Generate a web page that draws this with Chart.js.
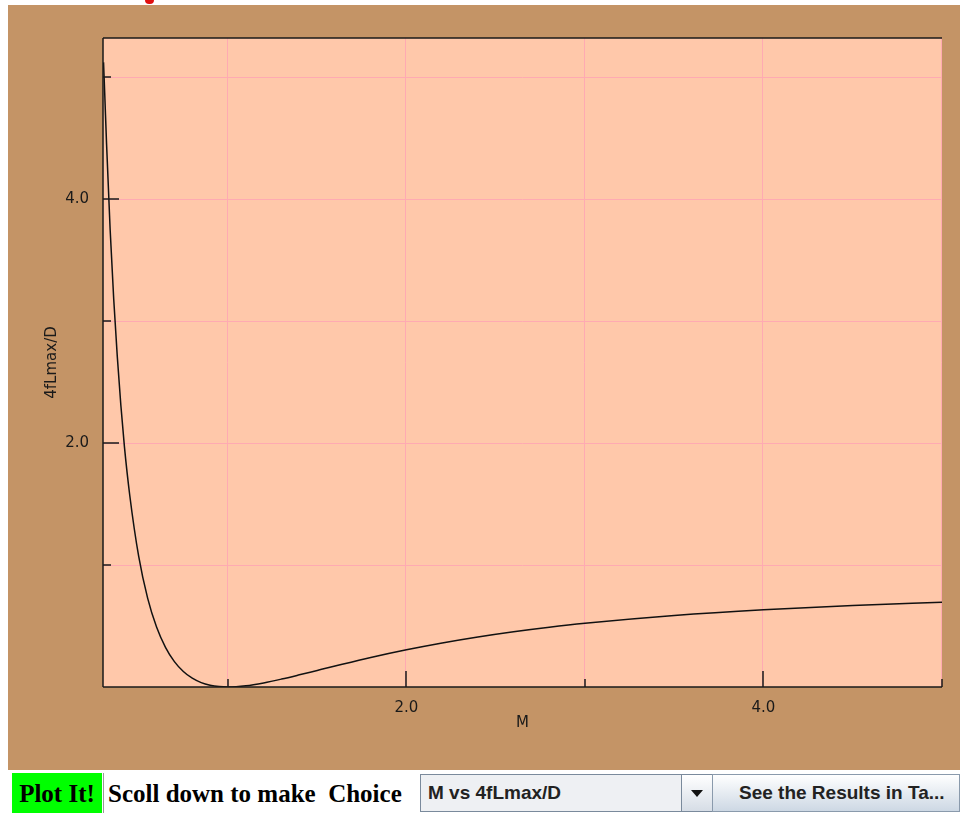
<!DOCTYPE html>
<html>
<head>
<meta charset="utf-8">
<script src="https://cdn.jsdelivr.net/npm/chart.js@4.4.0/dist/chart.umd.min.js"></script>
<style>
  body { margin:0; width:960px; height:813px; background:#fff; position:relative; overflow:hidden; font-family:"DejaVu Sans", sans-serif; }
  #mark { position:absolute; left:145px; top:0; width:9px; height:4px; background:#e01010; border-radius:0 0 5px 5px; }
  #panel { position:absolute; left:8px; top:5px; width:952px; height:765px; background:#c49466; }
  #wrap { position:absolute; left:0; top:0; width:960px; height:770px; }
  #plot { position:absolute; left:12px; top:773px; width:90px; height:40px; background:#00ff00; font:bold 25px "Liberation Serif", serif; line-height:42px; text-align:center; color:#000; }
  #sep { position:absolute; left:103px; top:773px; width:1px; height:40px; background:#999; }
  #hint { position:absolute; left:108px; top:773px; height:40px; font:bold 25px "Liberation Serif", serif; line-height:42px; color:#000; white-space:pre; }
  #combo { position:absolute; left:420px; top:774px; width:292px; height:38px; border:1px solid #7a8a9c; background:#eef0f3; box-sizing:border-box; }
  #combo .txt { position:absolute; left:7px; top:0; font:bold 19px "Liberation Sans", Arial, sans-serif; line-height:36px; color:#222; }
  #combo .arr { position:absolute; left:260px; top:0; width:30px; height:36px; border-left:1px solid #7a8a9c; background:linear-gradient(#ffffff, #d6dde6); }
  #combo .arr:after { content:""; position:absolute; left:9px; top:15px; border-left:6px solid transparent; border-right:6px solid transparent; border-top:7px solid #111; }
  #btn { position:absolute; left:712px; top:774px; width:248px; height:38px; border:1px solid #8a9aac; box-sizing:border-box; background:linear-gradient(#ffffff, #cdd8e4); font:bold 19px "Liberation Sans", Arial, sans-serif; line-height:36px; color:#222; padding-left:26px; white-space:nowrap; }
</style>
</head>
<body>
<div id="mark"></div>
<div id="panel"></div>
<div id="wrap"><canvas id="fanno"></canvas></div>
<div id="plot">Plot It!</div>
<div id="sep"></div>
<div id="hint">Scoll down to make  Choice</div>
<div id="combo"><span class="txt">M vs 4fLmax/D</span><div class="arr"></div></div>
<div id="btn">See the Results in Ta...</div>
<script>
// values
const mach = [0.303, 0.31, 0.32, 0.34, 0.36, 0.38, 0.40, 0.42, 0.45, 0.50, 0.55, 0.60, 0.65, 0.70, 0.75, 0.80, 0.85, 0.90, 0.95, 1.00,
              1.10, 1.20, 1.30, 1.40, 1.50, 1.60, 1.80, 2.00, 2.20, 2.40, 2.60, 2.80, 3.00, 3.50, 4.00, 4.50, 5.00];
const fLmax = [5.12, 4.85, 4.45, 3.75, 3.18, 2.71, 2.31, 1.97, 1.57, 1.07, 0.728, 0.491, 0.325, 0.208, 0.127, 0.072, 0.036, 0.0145, 0.0033, 0.0,
               0.0099, 0.0336, 0.0648, 0.0997, 0.136, 0.172, 0.242, 0.305, 0.361, 0.410, 0.453, 0.490, 0.522, 0.586, 0.633, 0.668, 0.694];

const xTicks = [1, 2, 3, 4, 5];
const yTicks = [1, 2, 3, 4, 5];
const xLabels = { 2: '2.0', 4: '4.0' };
const yLabels = { 2: '2.0', 4: '4.0' };

const PINK = '#ffc8aa';
const GRID = '#ffaab2';

const frame = {
    id: 'frame',
    beforeDraw(chart) {
        const { ctx, chartArea: a } = chart;
        ctx.save();
        ctx.fillStyle = PINK;
        ctx.fillRect(a.left, a.top, a.right - a.left, a.bottom - a.top);
        ctx.restore();
    },
    beforeDatasetsDraw(chart) {
        // crisp grid lines at the tick values
        const { ctx, chartArea: a, scales } = chart;
        ctx.save();
        ctx.strokeStyle = GRID;
        ctx.lineWidth = 1;
        ctx.beginPath();
        xTicks.forEach(v => {
            const px = Math.round(scales.x.getPixelForValue(v)) - 0.5;
            ctx.moveTo(px, a.top); ctx.lineTo(px, a.bottom);
        });
        yTicks.forEach(v => {
            const py = Math.round(scales.y.getPixelForValue(v)) + 0.5;
            ctx.moveTo(a.left, py); ctx.lineTo(a.right, py);
        });
        ctx.stroke();
        ctx.restore();
    },
    afterDraw(chart) {
        const { ctx, chartArea: a, scales } = chart;
        ctx.save();
        ctx.strokeStyle = '#1a1a1a';
        ctx.lineWidth = 1.5;
        ctx.beginPath();
        ctx.moveTo(a.left, a.top); ctx.lineTo(a.right, a.top);
        ctx.moveTo(a.left, a.top); ctx.lineTo(a.left, a.bottom);
        ctx.moveTo(a.left, a.bottom); ctx.lineTo(a.right, a.bottom);
        // inward tick marks
        xTicks.forEach(v => {
            const px = Math.round(scales.x.getPixelForValue(v));
            const len = xLabels[v] ? 16 : 8;
            ctx.moveTo(px, a.bottom); ctx.lineTo(px, a.bottom - len);
        });
        yTicks.forEach(v => {
            const py = Math.round(scales.y.getPixelForValue(v));
            const len = yLabels[v] ? 16 : 8;
            ctx.moveTo(a.left, py); ctx.lineTo(a.left + len, py);
        });
        ctx.stroke();
        ctx.restore();
    }
};

const ctx = document.getElementById('fanno').getContext('2d');
new Chart(ctx, {
    type: 'scatter',
    data: {
        datasets: [{
            data: mach.map((m, i) => ({ x: m, y: fLmax[i] })),
            showLine: true,
            borderColor: '#111',
            borderWidth: 1.5,
            pointRadius: 0,
            cubicInterpolationMode: 'monotone'
        }]
    },
    options: {
        responsive: true,
        maintainAspectRatio: false,
        animation: false,
        layout: { padding: { left: 0, top: 38, right: 18, bottom: 0 } },
        plugins: { legend: { display: false }, tooltip: { enabled: false } },
        scales: {
            x: {
                type: 'linear',
                min: 0.3,
                max: 5.0,
                afterBuildTicks: s => { s.ticks = xTicks.map(v => ({ value: v })); },
                afterFit: s => { s.height = 83; },
                grid: { display: false },
                border: { display: false },
                ticks: {
                    padding: 4,
                    color: '#1a1a1a',
                    font: { family: 'DejaVu Sans', size: 15 },
                    callback: v => xLabels[v] || ''
                },
                title: {
                    display: true,
                    text: 'M',
                    color: '#1a1a1a',
                    font: { family: 'DejaVu Sans', size: 15 },
                    padding: { top: 0, bottom: 38 }
                }
            },
            y: {
                type: 'linear',
                min: 0,
                max: 5.32,
                afterBuildTicks: s => { s.ticks = yTicks.map(v => ({ value: v })); },
                afterFit: s => { s.width = 103; },
                grid: { display: false },
                border: { display: false },
                ticks: {
                    padding: 6,
                    color: '#1a1a1a',
                    font: { family: 'DejaVu Sans', size: 15 },
                    callback: v => yLabels[v] || ''
                },
                title: {
                    display: true,
                    text: '4fLmax/D',
                    color: '#1a1a1a',
                    font: { family: 'DejaVu Sans', size: 15 },
                    padding: { top: 43, bottom: 0 }
                }
            }
        }
    },
    plugins: [frame]
});
</script>
</body>
</html>
